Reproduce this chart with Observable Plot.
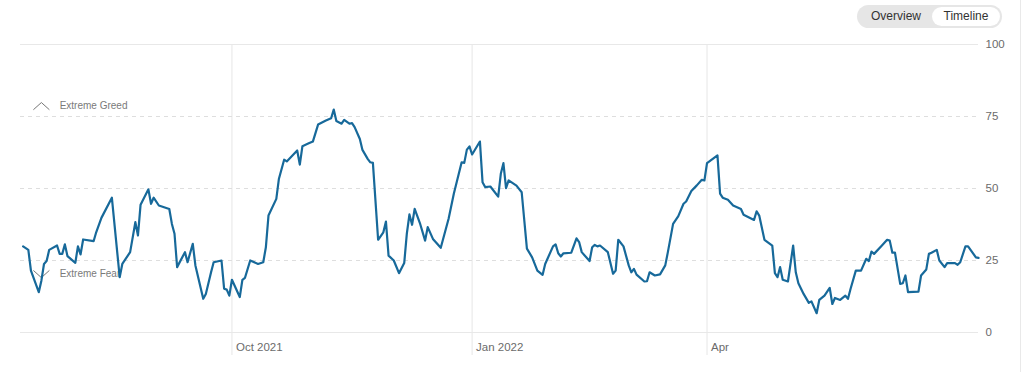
<!DOCTYPE html>
<html>
<head>
<meta charset="utf-8">
<script src="https://cdn.jsdelivr.net/npm/d3@7"></script>
<script src="https://cdn.jsdelivr.net/npm/@observablehq/plot@0.6"></script>
<style>
  html, body { margin: 0; padding: 0; background: #fff; }
  body { width: 1024px; height: 372px; overflow: hidden; font-family: "Liberation Sans", Arial, sans-serif; }
  #header { height: 36px; position: relative; }
  #toggle { position: absolute; left: 857px; top: 5px; width: 145px; height: 23px; background: #e6e6e6; border-radius: 12px; font-size: 12px; color: #333; }
  #toggle span { position: absolute; top: 0; line-height: 23px; }
  #ov { left: 14px; }
  #tl { left: 75px; top: 2px !important; height: 19px; line-height: 19px !important; width: 68px; background: #fff; border-radius: 10px; text-align: center; }
  #border { position: absolute; left: 1020px; top: 0; width: 1px; height: 372px; background: #e9e9e9; }
</style>
</head>
<body>
<div id="header"><div id="toggle"><span id="ov">Overview</span><span id="tl">Timeline</span></div></div>
<div id="chart"></div>
<div id="border"></div>
<script>
const dates = [
"2021-07-13","2021-07-15","2021-07-16","2021-07-19","2021-07-20","2021-07-21","2021-07-22","2021-07-23","2021-07-26","2021-07-27",
"2021-07-28","2021-07-29","2021-07-30","2021-08-02","2021-08-03","2021-08-04","2021-08-05","2021-08-09","2021-08-10","2021-08-12",
"2021-08-16","2021-08-19","2021-08-20","2021-08-23","2021-08-25","2021-08-26","2021-08-27","2021-08-30","2021-08-31","2021-09-01",
"2021-09-03","2021-09-07","2021-09-08","2021-09-09","2021-09-10","2021-09-13","2021-09-14","2021-09-16","2021-09-17","2021-09-20",
"2021-09-21","2021-09-23","2021-09-24","2021-09-27","2021-09-28","2021-09-29","2021-09-30","2021-10-01","2021-10-04","2021-10-05",
"2021-10-06","2021-10-08","2021-10-11","2021-10-13","2021-10-14","2021-10-15","2021-10-18","2021-10-19","2021-10-21","2021-10-22",
"2021-10-26","2021-10-27","2021-10-28","2021-10-30","2021-11-01","2021-11-03","2021-11-06","2021-11-08","2021-11-09","2021-11-10",
"2021-11-12","2021-11-13","2021-11-15","2021-11-16","2021-11-17","2021-11-19","2021-11-20","2021-11-22","2021-11-23","2021-11-24",
"2021-11-26","2021-11-28","2021-11-29","2021-11-30","2021-12-02","2021-12-04","2021-12-06","2021-12-07","2021-12-08","2021-12-09",
"2021-12-10","2021-12-12","2021-12-14","2021-12-15","2021-12-17","2021-12-20","2021-12-23","2021-12-25","2021-12-28","2021-12-29",
"2021-12-30","2021-12-31","2022-01-01","2022-01-04","2022-01-05","2022-01-06","2022-01-08","2022-01-11","2022-01-12","2022-01-13",
"2022-01-14","2022-01-15","2022-01-18","2022-01-20","2022-01-22","2022-01-24","2022-01-26","2022-01-28","2022-01-29","2022-02-01",
"2022-02-02","2022-02-03","2022-02-04","2022-02-05","2022-02-08","2022-02-10","2022-02-11","2022-02-12","2022-02-15","2022-02-16",
"2022-02-17","2022-02-18","2022-02-19","2022-02-22","2022-02-24","2022-02-25","2022-02-26","2022-02-28","2022-03-02","2022-03-03",
"2022-03-04","2022-03-05","2022-03-08","2022-03-09","2022-03-10","2022-03-12","2022-03-14","2022-03-16","2022-03-17","2022-03-19",
"2022-03-21","2022-03-23","2022-03-24","2022-03-26","2022-03-28","2022-03-30","2022-03-31","2022-04-01","2022-04-05","2022-04-06",
"2022-04-07","2022-04-09","2022-04-11","2022-04-14","2022-04-15","2022-04-19","2022-04-20","2022-04-21","2022-04-23","2022-04-26",
"2022-04-27","2022-04-28","2022-04-29","2022-04-30","2022-05-02","2022-05-04","2022-05-05","2022-05-06","2022-05-08","2022-05-10",
"2022-05-11","2022-05-13","2022-05-14","2022-05-16","2022-05-18","2022-05-19","2022-05-20","2022-05-22","2022-05-24","2022-05-25",
"2022-05-26","2022-05-28","2022-05-30","2022-06-01","2022-06-02","2022-06-03","2022-06-04","2022-06-07","2022-06-09","2022-06-10",
"2022-06-11","2022-06-12","2022-06-14","2022-06-15","2022-06-16","2022-06-17","2022-06-21","2022-06-22","2022-06-24","2022-06-25",
"2022-06-26","2022-06-28","2022-06-29","2022-07-01","2022-07-02","2022-07-05","2022-07-06","2022-07-07","2022-07-09","2022-07-10",
"2022-07-13","2022-07-14"
];
const values = [
29.9,28.7,21.5,14.0,18.0,23.8,24.8,28.7,30.2,27.3,
27.3,30.6,26.5,24.2,29.9,27.1,32.3,31.7,34.8,39.8,
46.8,19.2,23.8,27.9,38.3,33.7,44.4,49.7,44.7,46.8,
44.1,42.9,37.7,34.3,22.7,27.9,24.4,30.8,23.3,11.7,
13.4,20.9,24.4,25.0,15.2,14.9,12.8,18.3,12.3,18.3,
19.0,25.0,23.8,24.4,29.6,40.6,46.4,53.4,60.0,59.4,
63.2,58.3,64.7,65.5,66.3,72.2,73.6,74.4,77.4,73.4,
72.5,73.8,72.5,72.7,71.3,67.2,63.4,60.3,59.1,58.9,
32.2,34.8,38.5,26.7,25.0,20.6,24.1,34.3,41.0,37.4,
42.9,38.0,31.9,36.6,32.5,29.4,39.5,48.2,59.1,58.9,
63.5,64.6,61.8,66.3,52.2,50.5,50.7,47.2,55.1,58.8,
50.1,52.8,51.0,48.7,29.1,26.1,21.5,20.0,23.8,29.9,
30.6,27.5,26.4,27.5,27.7,32.7,31.4,27.9,24.8,29.6,
30.4,29.9,30.2,27.9,20.4,21.5,32.2,29.9,23.3,20.9,
22.1,20.1,17.7,17.8,20.9,19.8,20.2,23.3,27.9,37.7,
40.4,44.7,45.5,49.1,51.0,53.0,52.8,58.8,61.5,48.2,
46.8,46.1,44.1,42.9,40.9,39.1,42.1,40.6,32.2,30.2,
20.6,19.2,22.7,18.3,17.7,30.2,20.9,17.1,13.4,10.3,
10.8,6.7,11.3,12.8,15.5,9.9,12.0,11.3,12.8,11.7,
15.2,21.5,21.5,25.6,24.8,28.1,27.3,30.2,32.2,31.9,
27.7,27.7,16.9,17.1,19.8,14.0,14.2,19.8,21.9,27.3,
27.7,28.7,25.0,22.7,24.1,24.1,23.5,24.4,29.9,29.9,
26.1,25.9
];
const xDomain = ["2021-07-12", "2022-07-14"];
const tickDates = ["2021-10-01", "2022-01-01", "2022-04-01"];
const tickLabels = ["Oct 2021", "Jan 2022", "Apr"];
const yTicks = [0, 25, 50, 75, 100];
const solidLevels = [0, 100];
const dashedLevels = [25, 50, 75];
const zones = [
  {label: "Extreme Greed", dir: "up", date: "2021-07-27", mark: "2021-07-20", value: 78.6},
  {label: "Extreme Fear", dir: "down", date: "2021-07-27", mark: "2021-07-20", value: 20.3}
];

const data = dates.map((d, i) => ({date: new Date(d), value: values[i]}));
const ticks = tickDates.map(d => new Date(d));
const labelOf = new Map(ticks.map((t, i) => [+t, tickLabels[i]]));
const zoneData = zones.map(z => ({...z, date: new Date(z.date), mark: new Date(z.mark)}));

const chevron = up => ({
  draw(ctx, size) {
    const w = 8, h = up ? -3.6 : 3.6;
    ctx.moveTo(-w, -h);
    ctx.lineTo(0, h);
    ctx.lineTo(w, -h);
  }
});

const font = '"Liberation Sans", Arial, sans-serif';
const chart = Plot.plot({
  width: 1024,
  height: 336,
  marginTop: 8,
  marginBottom: 40,
  marginLeft: 20,
  marginRight: 46,
  style: {fontFamily: font, background: "#fff", overflow: "visible"},
  x: {type: "utc", domain: xDomain.map(d => new Date(d))},
  y: {domain: [0, 100]},
  marks: [
    Plot.ruleX(ticks, {stroke: "#e6e6e6", strokeWidth: 1, insetBottom: -23}),
    Plot.ruleY(solidLevels, {stroke: "#e8e8e8", strokeWidth: 1}),
    Plot.ruleY(dashedLevels, {stroke: "#dedede", strokeWidth: 1, strokeDasharray: "4,4"}),
    Plot.axisX(ticks, {tickSize: 0, tickPadding: 10, textAnchor: "start", dx: 4, fontSize: 11.5, fill: "#6b6b6b", tickFormat: d => labelOf.get(+d), label: null}),
    Plot.axisY(yTicks, {anchor: "right", tickSize: 0, tickPadding: 7, fontSize: 11.5, fill: "#6b6b6b", label: null}),
    Plot.dot(zoneData.filter(z => z.dir === "up"), {x: "mark", y: "value", symbol: chevron(true), r: 4, stroke: "#777", strokeWidth: 1, fill: "none"}),
    Plot.dot(zoneData.filter(z => z.dir === "down"), {x: "mark", y: "value", symbol: chevron(false), r: 4, stroke: "#777", strokeWidth: 1, fill: "none"}),
    Plot.text(zoneData, {x: "date", y: "value", text: "label", textAnchor: "start", fontSize: 10, fill: "#7a7a7a"}),
    Plot.lineY(data, {x: "date", y: "value", stroke: "#17699a", strokeWidth: 2.2, curve: "linear"})
  ]
});
document.getElementById("chart").appendChild(chart);
</script>
</body>
</html>
